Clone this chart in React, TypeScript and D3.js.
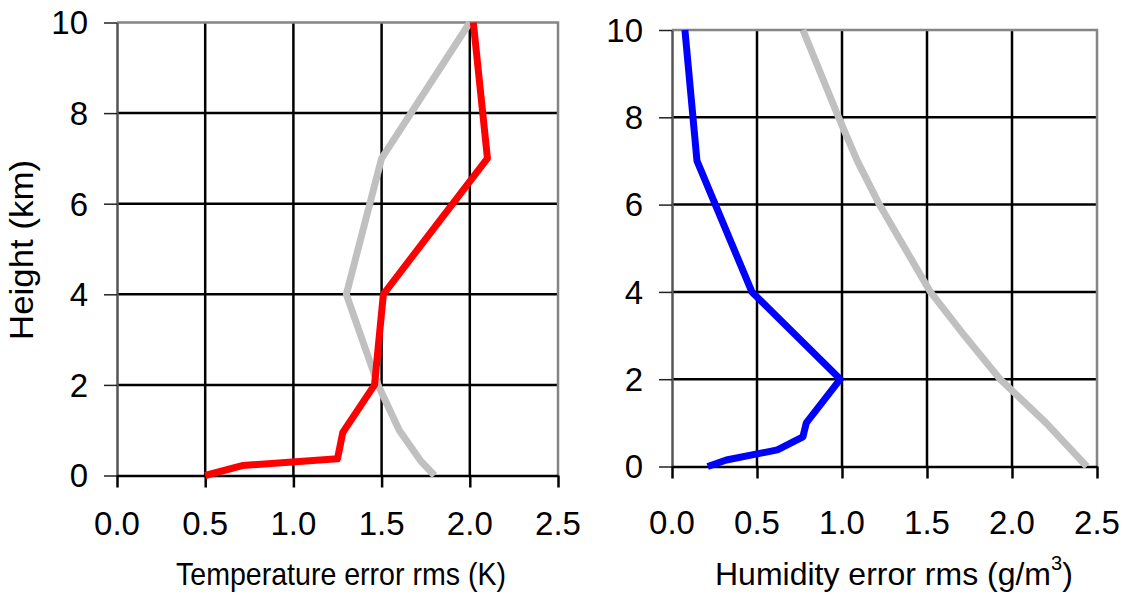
import React, { useEffect, useRef } from "react";
import * as d3 from "d3";

// temperature panel (left)
const tempHeights = [0, 0.22, 0.37, 0.95, 2.0, 4.0, 7.0, 10];
const tempRed = [0.5, 0.71, 1.25, 1.28, 1.46, 1.51, 2.1, 2.02];
const tempGreyHeights = [0, 0.33, 1, 2, 4, 7, 10];
const tempGrey = [1.8, 1.72, 1.6, 1.48, 1.3, 1.5, 2.0];

// humidity panel (right)
const humHeights = [0, 0.15, 0.38, 0.68, 1.0, 2, 4, 7, 10];
const humBlue = [0.21, 0.32, 0.62, 0.77, 0.79, 0.99, 0.47, 0.147, 0.076];
const humGreyHeights = [0, 1, 2, 3, 4, 5, 6, 7, 8, 10];
const humGrey = [2.44, 2.2, 1.93, 1.72, 1.52, 1.37, 1.22, 1.09, 0.98, 0.77];

const xTicks = [0, 0.5, 1.0, 1.5, 2.0, 2.5];
const yTicks = [0, 2, 4, 6, 8, 10];

const FONT = "'Liberation Sans', Arial, sans-serif";

type Series = { heights: number[]; values: number[]; color: string };

export default function App() {
  const svgRef = useRef<SVGSVGElement>(null);
  const width = 1126;
  const height = 596;

  const drawPanel = (svg: any, box: any, series: Series[], xLabelBase: number) => {
    const xScale = d3.scaleLinear().domain([0, 2.5]).range([box.x0, box.x1]);
    const yScale = d3.scaleLinear().domain([0, 10]).range([box.y1, box.y0]);
    const g = svg.append("g");

    // grid
    g.selectAll(".vgrid")
      .data(xTicks.slice(1, -1))
      .enter()
      .append("line")
      .attr("x1", (d: number) => xScale(d))
      .attr("x2", (d: number) => xScale(d))
      .attr("y1", box.y0)
      .attr("y2", box.y1)
      .attr("stroke", "#000")
      .attr("stroke-width", 2.5);
    g.selectAll(".hgrid")
      .data(yTicks.slice(1, -1))
      .enter()
      .append("line")
      .attr("x1", box.x0)
      .attr("x2", box.x1)
      .attr("y1", (d: number) => yScale(d))
      .attr("y2", (d: number) => yScale(d))
      .attr("stroke", "#000")
      .attr("stroke-width", 2.5);

    // plot border (grey) top & right
    g.append("path")
      .attr("d", `M${box.x0},${box.y0}H${box.x1}V${box.y1}`)
      .attr("fill", "none")
      .attr("stroke", "#858585")
      .attr("stroke-width", 2.5);

    // y axis
    const yAxis = d3
      .axisLeft(yScale)
      .tickValues(yTicks)
      .tickSizeInner(13)
      .tickSizeOuter(0)
      .tickFormat(() => "");
    const ya = g.append("g").attr("transform", `translate(${box.x0},0)`).call(yAxis);
    ya.select(".domain").attr("stroke", "#555").attr("stroke-width", 2.5);
    ya.selectAll(".tick line").attr("stroke", "#222").attr("stroke-width", 1.5);

    g.selectAll(".ylab")
      .data(yTicks)
      .enter()
      .append("text")
      .attr("x", box.x0 - 29)
      .attr("y", (d: number) => yScale(d))
      .attr("dy", "0.36em")
      .attr("text-anchor", "end")
      .attr("font-family", FONT)
      .attr("font-size", 33)
      .text((d: number) => d);

    // x axis
    const xAxis = d3
      .axisBottom(xScale)
      .tickValues(xTicks)
      .tickSizeInner(12)
      .tickSizeOuter(0)
      .tickFormat(() => "");
    const xa = g.append("g").attr("transform", `translate(0,${box.y1})`).call(xAxis);
    xa.select(".domain").attr("stroke", "#000").attr("stroke-width", 2.5);
    xa.selectAll(".tick line").attr("stroke", "#000").attr("stroke-width", 2.5);

    g.selectAll(".xlab")
      .data(xTicks)
      .enter()
      .append("text")
      .attr("x", (d: number) => xScale(d))
      .attr("y", xLabelBase)
      .attr("text-anchor", "middle")
      .attr("font-family", FONT)
      .attr("font-size", 33)
      .text((d: number) => d.toFixed(1));

    // series lines
    series.forEach((s) => {
      const pts = s.heights.map((h, i) => [s.values[i], h] as [number, number]);
      const line = d3
        .line<[number, number]>()
        .x((d) => xScale(d[0]))
        .y((d) => yScale(d[1]));
      g.append("path")
        .attr("d", line(pts))
        .attr("fill", "none")
        .attr("stroke", s.color)
        .attr("stroke-width", 7)
        .attr("stroke-linejoin", "round");
    });
  };

  useEffect(() => {
    const svg = d3.select(svgRef.current);
    svg.selectAll("*").remove();

    drawPanel(
      svg,
      { x0: 117, x1: 558, y0: 22.5, y1: 475.5 },
      [
        { heights: tempGreyHeights, values: tempGrey, color: "#c0c0c0" },
        { heights: tempHeights, values: tempRed, color: "#ff0000" },
      ],
      535
    );
    drawPanel(
      svg,
      { x0: 672, x1: 1097, y0: 30, y1: 466.5 },
      [
        { heights: humGreyHeights, values: humGrey, color: "#c0c0c0" },
        { heights: humHeights, values: humBlue, color: "#0000ff" },
      ],
      534
    );

    // axis titles
    svg
      .append("text")
      .attr("transform", "translate(33,250) rotate(-90)")
      .attr("text-anchor", "middle")
      .attr("font-family", FONT)
      .attr("font-size", 33)
      .attr("textLength", 180)
      .attr("lengthAdjust", "spacingAndGlyphs")
      .text("Height (km)");

    svg
      .append("text")
      .attr("x", 176)
      .attr("y", 585)
      .attr("font-family", FONT)
      .attr("font-size", 32)
      .attr("textLength", 330)
      .attr("lengthAdjust", "spacingAndGlyphs")
      .text("Temperature error rms (K)");

    const ht = svg
      .append("text")
      .attr("x", 715)
      .attr("y", 585)
      .attr("font-family", FONT)
      .attr("font-size", 32);
    ht.append("tspan").text("Humidity error rms (g/m");
    ht.append("tspan").attr("font-size", 20).attr("dy", -15).text("3");
    ht.append("tspan").attr("dy", 15).text(")");
  }, []);

  return (
    <svg
      ref={svgRef}
      width={width}
      height={height}
      style={{ position: "absolute", left: 0, top: 0, background: "#fff" }}
    ></svg>
  );
}
